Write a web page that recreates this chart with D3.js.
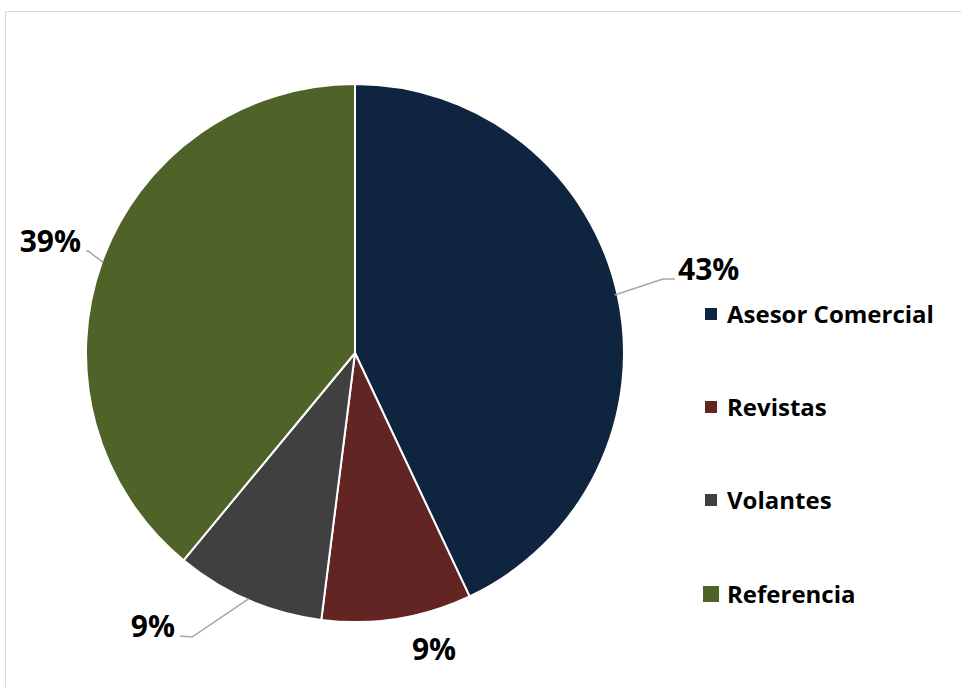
<!DOCTYPE html>
<html>
<head>
<meta charset="utf-8">
<script src="https://cdn.jsdelivr.net/npm/d3@7"></script>
<style>
  html, body { margin: 0; padding: 0; background: #ffffff; }
  svg { display: block; }
  text { font-family: "Open Sans", Lato, sans-serif; font-weight: bold; fill: #000; }
</style>
</head>
<body>
<svg id="chart" width="961" height="687"></svg>
<script>
// Share of customers by how they heard about us (percent)
const categories = ["Asesor Comercial", "Revistas", "Volantes", "Referencia"];
const shares = [43, 9, 9, 39];
const sliceColors = ["#0f243e", "#632523", "#404040", "#4f6228"];

const width = 961, height = 687;
const cx = 355, cy = 353, radius = 269;

const svg = d3.select("#chart");

// chart area frame
svg.append("rect")
  .attr("x", 5.5).attr("y", 11.5)
  .attr("width", 970).attr("height", 700)
  .attr("fill", "none").attr("stroke", "#d9d9d9").attr("stroke-width", 1);

const data = categories.map((c, i) => ({ name: c, value: shares[i], color: sliceColors[i] }));

const pie = d3.pie().value(d => d.value).sort(null);
const arc = d3.arc().innerRadius(0).outerRadius(radius);
const arcs = pie(data);

const g = svg.append("g").attr("transform", `translate(${cx},${cy})`);

g.selectAll("path.slice")
  .data(arcs)
  .join("path")
  .attr("class", "slice")
  .attr("d", arc)
  .attr("fill", d => d.data.color)
  .attr("stroke", "#ffffff")
  .attr("stroke-width", 2)
  .attr("stroke-linejoin", "round");

// label placement for each slice: text anchor point plus optional leader elbow
const labelLayout = {
  "Asesor Comercial": { x: 323, y: -73, anchor: "start", elbow: [308, -74], leader: true, edgeR: 266 },
  "Revistas":         { x: 79,  y: 307, anchor: "middle", leader: false },
  "Volantes":         { x: -180, y: 284, anchor: "end", elbow: [-163, 284], leader: true, edgeR: 268 },
  "Referencia":       { x: -274, y: -101, anchor: "end", elbow: [-267, -102], leader: true, edgeR: 268 }
};

const pointOnEdge = (d, r) => {
  const a = (d.startAngle + d.endAngle) / 2;
  return [r * Math.sin(a), -r * Math.cos(a)];
};

arcs.forEach(d => {
  const L = labelLayout[d.data.name];
  if (L.leader) {
    const p0 = pointOnEdge(d, L.edgeR);
    const endX = L.anchor === "start" ? L.x - 3 : L.x + 5;
    const endY = L.y - 1;
    g.append("polyline")
      .attr("points", [p0, L.elbow, [endX, endY]].map(p => p.join(",")).join(" "))
      .attr("fill", "none")
      .attr("stroke", "#a6a6a6")
      .attr("stroke-width", 1.5);
  }
  g.append("text")
    .attr("x", L.x)
    .attr("y", L.y)
    .attr("text-anchor", L.anchor)
    .attr("font-size", 30)
    .text(d3.format(".0%")(d.data.value / d3.sum(shares)));
});

// legend
const legendRows = [314, 407, 500, 594];
const legend = svg.append("g");
data.forEach((d, i) => {
  const size = i === data.length - 1 ? 16 : 12;
  legend.append("rect")
    .attr("x", 711 - size / 2)
    .attr("y", legendRows[i] - size / 2)
    .attr("width", size).attr("height", size)
    .attr("fill", d.color);
  legend.append("text")
    .attr("x", 727)
    .attr("y", legendRows[i] + 8.5)
    .attr("font-size", 24)
    .text(d.name);
});
</script>
</body>
</html>
